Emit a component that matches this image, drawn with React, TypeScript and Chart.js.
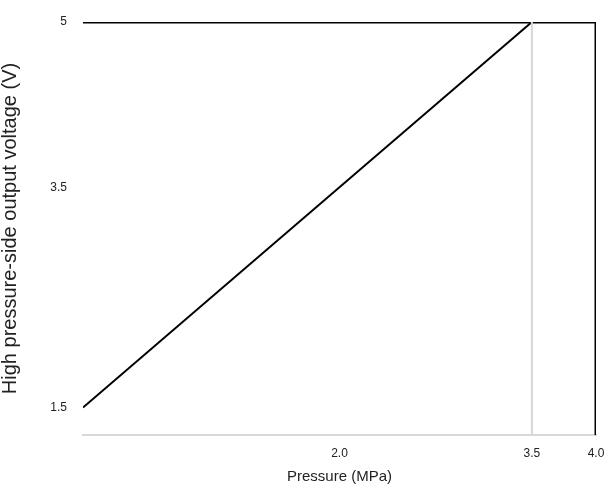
import React, { useEffect, useRef } from "react";
import { Chart, registerables } from "chart.js";

Chart.register(...registerables);

const pressureLine = [0, 3.5];
const voltageLine = [1.5, 5];
const limitPressure = [0, 4, 4];
const limitVoltage = [5, 5, 1.25];
const refPressure = [3.5, 3.5];
const refVoltage = [5, 1.25];
const xTicks = [2, 3.5, 4];
const yTicks = [1.5, 3.5, 5];

const toPts = (xs: number[], ys: number[]) => xs.map((x, i) => ({ x, y: ys[i] }));

export default function App() {
  const ref = useRef<HTMLCanvasElement | null>(null);
  useEffect(() => {
    if (!ref.current) return;
    const font = "'Liberation Sans', Arial, sans-serif";
    const chart = new Chart(ref.current, {
      type: "scatter",
      data: {
        datasets: [
          {
            data: toPts(refPressure, refVoltage),
            showLine: true,
            borderColor: "#d6d6d6",
            borderWidth: 2,
            pointRadius: 0,
          },
          {
            data: toPts(limitPressure, limitVoltage),
            showLine: true,
            borderColor: "#000",
            borderWidth: 3,
            pointRadius: 0,
          },
          {
            data: toPts(pressureLine, voltageLine),
            showLine: true,
            borderColor: "#000",
            borderWidth: 2,
            pointRadius: 0,
          },
        ],
      },
      options: {
        animation: false,
        responsive: false,
        layout: { padding: { top: 22, right: 20, left: 0, bottom: 0 } },
        plugins: { legend: { display: false }, tooltip: { enabled: false } },
        scales: {
          x: {
            type: "linear",
            min: 0,
            max: 4,
            afterBuildTicks: (s: any) => {
              s.ticks = xTicks.map((v) => ({ value: v }));
            },
            afterFit: (s: any) => {
              s.height = 53;
            },
            grid: { display: false },
            border: { display: true, color: "#d8d8d8", width: 2 },
            ticks: {
              color: "#222",
              font: { family: font, size: 12 },
              padding: 3,
              maxRotation: 0,
              callback: (v: any) => Number(v).toFixed(1),
            },
            title: {
              display: true,
              text: "Pressure (MPa)",
              color: "#222",
              font: { family: font, size: 15 },
              padding: { top: 0, bottom: 2 },
            },
          },
          y: {
            type: "linear",
            min: 1.25,
            max: 5,
            afterBuildTicks: (s: any) => {
              s.ticks = yTicks.map((v) => ({ value: v }));
            },
            afterFit: (s: any) => {
              s.width = 83;
            },
            grid: { display: false },
            border: { display: false },
            ticks: {
              color: "#222",
              font: { family: font, size: 12 },
              padding: 8,
              callback: (v: any) => String(v),
            },
            title: {
              display: true,
              text: "High pressure-side output voltage (V)",
              color: "#222",
              font: { family: font, size: 20, lineHeight: 1 },
              padding: { top: 0, bottom: 0 },
            },
          },
        },
      },
    });
    return () => chart.destroy();
  }, []);
  return (
    <div style={{ position: "fixed", left: 0, top: 0, width: 616, height: 488, background: "#fff" }}>
      <canvas ref={ref} width={616} height={488} style={{ width: 616, height: 488 }} />
    </div>
  );
}
